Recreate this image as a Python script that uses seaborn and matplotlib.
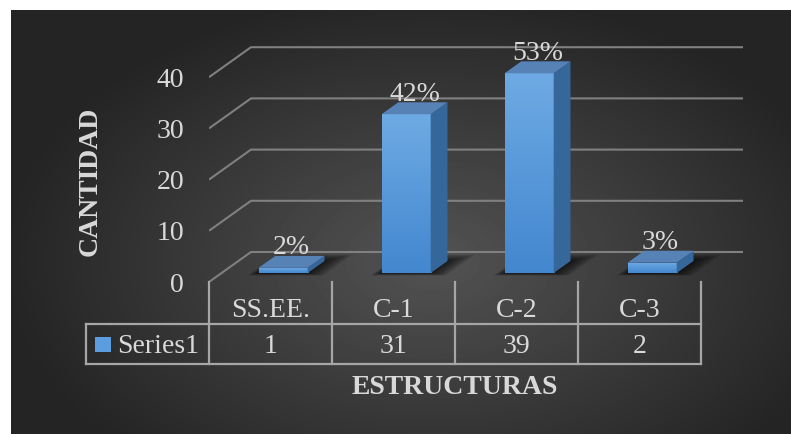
import numpy as np
import matplotlib
matplotlib.use("Agg")
import matplotlib.pyplot as plt
from matplotlib.patches import Polygon, Rectangle
from matplotlib.colors import LinearSegmentedColormap
import seaborn as sns

# ---- data ----
categories = ["SS.EE.", "C-1", "C-2", "C-3"]
counts = [1, 31, 39, 2]
pct_labels = ["2%", "42%", "53%", "3%"]
y_ticks = [0, 10, 20, 30, 40]
series_name = "Series1"
x_title = "ESTRUCTURAS"
y_title = "CANTIDAD"

# ---- styling ----
W, H, DPI = 791, 434, 100
sns.set_theme(style="dark")
plt.rcParams["font.family"] = ["Liberation Serif", "DejaVu Serif"]
TXT = "#d9d9d9"
GRID = "#808080"
TABLE = "#a6a6a6"
FS = 20

fig = plt.figure(figsize=(W / DPI, H / DPI), dpi=DPI, facecolor="white")

# dark panel with a soft radial glow
bg = fig.add_axes([11 / W, 0, (W - 11) / W, (H - 10) / H])
bw, bh = W - 11, H - 10
yy, xx = np.mgrid[0:bh, 0:bw]
r = np.sqrt(((xx - 420) / 430) ** 2 + ((yy - 250) / 270) ** 2)
shade = (83 - 47 * np.clip(r, 0, 1)) / 255.0
bg.imshow(shade, cmap="gray", vmin=0, vmax=1, aspect="auto", interpolation="bilinear")
bg.axis("off")

# plotting area: x in category units, y in count units (front plane)
PXC = 123.0     # pixels per category
PXV = 5.12      # pixels per count unit
X0, Y0 = 209, 282
RIGHT, TOP = 770, 20
ax = fig.add_axes([X0 / W, (H - Y0) / H, (RIGHT - X0) / W, (Y0 - TOP) / H])
DX = 42 / PXC   # oblique depth offset (category units)
DY = 30 / PXV   # oblique depth offset (count units)
front_d, back_d = 0.3, 0.7

sns.barplot(x=categories, y=counts, ax=ax, width=0.4, color="#5b9bd5",
            saturation=1, errorbar=None, zorder=3)

ax.set_facecolor("none")
ax.grid(False)
for s in ax.spines.values():
    s.set_visible(False)
ax.set_xlabel("")
ax.set_ylabel("")

n = len(categories)
# oblique gridlines: left wall diagonal + back wall line
for v in y_ticks:
    ax.plot([-0.5, -0.5 + DX, n - 0.5 + DX], [v, v + DY, v + DY],
            color=GRID, lw=1.5, zorder=1, solid_capstyle="butt")

front_cmap = LinearSegmentedColormap.from_list("front", ["#4387cf", "#6eaae4"])
grad = np.linspace(0, 1, 128).reshape(-1, 1)

bars = list(ax.patches)
for i, (p, v, lbl) in enumerate(zip(bars, counts, pct_labels)):
    bx0 = p.get_x()
    bw_ = p.get_width()
    # soft floor shadow around the footprint
    for k in range(7):
        e = 0.012 * (k + 1)
        ed = 0.03 * (k + 1)
        xa, xb = bx0 - e * 0.7, bx0 + bw_ + e * 1.8
        da, db = front_d - ed * 0.4, back_d + ed
        pts = [(xa + da * DX, da * DY), (xb + da * DX, da * DY),
               (xb + db * DX, db * DY), (xa + db * DX, db * DY)]
        ax.add_patch(Polygon(pts, closed=True, facecolor="black", edgecolor="none",
                             alpha=0.12, zorder=2))

    p.set_x(bx0 + front_d * DX)
    p.set_y(front_d * DY)
    p.set_height(v)
    p.set_edgecolor("none")
    x0 = p.get_x()
    x1 = x0 + bw_
    b = p.get_y()
    t = b + v
    ddx = (back_d - front_d) * DX
    ddy = (back_d - front_d) * DY

    im = ax.imshow(grad, extent=(x0, x1, b, t), origin="lower", cmap=front_cmap,
                   aspect="auto", zorder=3.1, interpolation="bilinear")
    im.set_clip_path(p)

    side = [(x1, b), (x1 + ddx, b + ddy), (x1 + ddx, t + ddy), (x1, t)]
    ax.add_patch(Polygon(side, closed=True, facecolor="#36679b", edgecolor="none", zorder=3.2))
    top = [(x0, t), (x1, t), (x1 + ddx, t + ddy), (x0 + ddx, t + ddy)]
    ax.add_patch(Polygon(top, closed=True, facecolor="#5682b6", edgecolor="none", zorder=3.3))

    ax.annotate(lbl, xy=(i + 0.5 * DX, v + back_d * DY), xytext=(0, 1),
                textcoords="offset points", ha="center", va="baseline",
                fontsize=FS, color=TXT, zorder=5)

ax.set_xlim(-0.5, -0.5 + (RIGHT - X0) / PXC)
ax.set_ylim(0, (Y0 - TOP) / PXV)
ax.set_xticks([])
ax.set_yticks(y_ticks)
ax.set_yticklabels([str(t) for t in y_ticks])
ax.tick_params(axis="y", length=0, pad=18, labelsize=FS, labelcolor=TXT)

# ---- data table below the floor ----
def below(px):
    return -(px - Y0) / PXV

row_line = below(324)
bottom_line = below(364)
left_edge = -1.5
line_kw = dict(color=TABLE, lw=1.6, clip_on=False, zorder=4, solid_capstyle="projecting")
for k in range(n + 1):
    ax.plot([k - 0.5, k - 0.5], [0, bottom_line], **line_kw)
ax.plot([left_edge, n - 0.5], [row_line, row_line], **line_kw)
ax.plot([left_edge, n - 0.5], [bottom_line, bottom_line], **line_kw)
ax.plot([left_edge, left_edge], [row_line, bottom_line], **line_kw)

for i, (c, v) in enumerate(zip(categories, counts)):
    ax.text(i, below(317), c, ha="center", va="baseline", fontsize=FS, color=TXT, clip_on=False)
    ax.text(i, below(353), str(v), ha="center", va="baseline", fontsize=FS, color=TXT, clip_on=False)

ax.add_patch(Rectangle(((95 - X0) / PXC - 0.5, below(352)), 16 / PXC, 15 / PXV,
                       facecolor="#5b9ddf", edgecolor="none", clip_on=False, zorder=4))
ax.text((117 - X0) / PXC - 0.5, below(353), series_name, ha="left", va="baseline",
        fontsize=FS, color=TXT, clip_on=False)

# ---- axis titles ----
fig.text(90 / W, 1 - 181 / H, y_title, rotation=90, ha="center", va="center",
         fontsize=FS, fontweight="bold", color=TXT)
fig.text(455 / W, 1 - 388 / H, x_title, ha="center", va="center",
         fontsize=FS, fontweight="bold", color=TXT)

fig.savefig("out.png", dpi=DPI, facecolor="white")
